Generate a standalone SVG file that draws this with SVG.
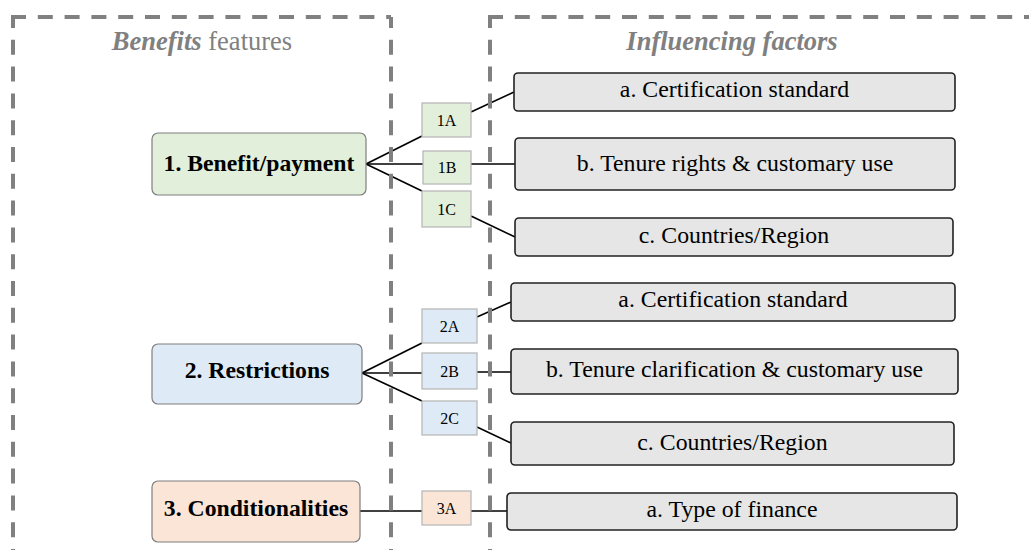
<svg xmlns="http://www.w3.org/2000/svg" width="1029" height="550" viewBox="0 0 1029 550">
<style>
.frame{stroke:#808080;stroke-width:4;fill:none;stroke-dasharray:15 11.8}
.title{font-family:"Liberation Serif",serif;font-size:26.5px;fill:#808080}
.main{font-family:"Liberation Serif",serif;font-size:23.7px;font-weight:bold;fill:#000;text-anchor:middle}
.lab{font-family:"Liberation Serif",serif;font-size:16px;fill:#000;text-anchor:middle}
.fac{font-family:"Liberation Serif",serif;font-size:23.8px;fill:#000;text-anchor:middle}
.nb{stroke:#7f7f7f;stroke-width:1.2}
.lb{stroke:#b4b4b4;stroke-width:1.2}
.fb{fill:#e6e6e6;stroke:#222;stroke-width:1.6}
.g{fill:#e2efda}.b{fill:#deebf7}.o{fill:#fbe5d6}
.con path{stroke:#000;stroke-width:1.6;fill:none}
</style>
<rect width="1029" height="550" fill="#fff"/>
<g id="connectors" class="con">
<path d="M366,164 L422,136"/>
<path d="M366,164 L423,164"/>
<path d="M366,164 L422,191"/>
<path d="M471,112 L514,92"/>
<path d="M471,164 L515,164"/>
<path d="M471,216 L515,237"/>
<path d="M362,373 L422,343"/>
<path d="M362,373 L422,373"/>
<path d="M362,373 L422,401"/>
<path d="M477,317 L511,302"/>
<path d="M477,372 L511,372"/>
<path d="M477,427 L511,443"/>
<path d="M360,511 L422,511"/>
<path d="M471,511 L507,511"/>
</g>
<g id="frames">
<line class="frame" x1="11" y1="17" x2="391" y2="17"/>
<line class="frame" x1="13" y1="17" x2="13" y2="560" stroke-dashoffset="4"/>
<line class="frame" x1="391" y1="17" x2="391" y2="560" stroke-dashoffset="4"/>
<line class="frame" x1="488" y1="17" x2="1040" y2="17"/>
<line class="frame" x1="490" y1="17" x2="490" y2="560" stroke-dashoffset="4"/>
<text class="title" x="202" y="50" text-anchor="middle"><tspan font-weight="bold" font-style="italic">Benefits</tspan> features</text>
<text class="title" x="732" y="50" text-anchor="middle" font-weight="bold" font-style="italic">Influencing factors</text>
</g>
<g id="n1"><rect class="nb g" x="152" y="133" width="214" height="62" rx="6"/><text class="main" x="259" y="171">1. Benefit/payment</text></g>
<g id="n2"><rect class="nb b" x="152" y="344" width="210" height="60" rx="6"/><text class="main" x="257" y="378">2. Restrictions</text></g>
<g id="n3"><rect class="nb o" x="152" y="481" width="208" height="61" rx="6"/><text class="main" x="256" y="516">3. Conditionalities</text></g>
<g id="l1A"><rect class="lb g" x="422" y="103" width="49" height="34"/><text class="lab" x="446.5" y="125.5">1A</text></g>
<g id="l1B"><rect class="lb g" x="423" y="151" width="48" height="33"/><text class="lab" x="447" y="173">1B</text></g>
<g id="l1C"><rect class="lb g" x="422" y="191" width="49" height="36"/><text class="lab" x="446.5" y="214.5">1C</text></g>
<g id="l2A"><rect class="lb b" x="422" y="309" width="55" height="34"/><text class="lab" x="449.5" y="331.5">2A</text></g>
<g id="l2B"><rect class="lb b" x="422" y="353" width="55" height="36"/><text class="lab" x="449.5" y="376.5">2B</text></g>
<g id="l2C"><rect class="lb b" x="422" y="401" width="55" height="34"/><text class="lab" x="449.5" y="423.5">2C</text></g>
<g id="l3A"><rect class="lb o" x="422" y="491" width="49" height="34"/><text class="lab" x="446.5" y="513.5">3A</text></g>
<g id="f1a"><rect class="fb" x="514" y="73" width="441" height="38" rx="4"/><text class="fac" x="734.5" y="97">a. Certification standard</text></g>
<g id="f1b"><rect class="fb" x="515" y="138" width="440" height="52" rx="4"/><text class="fac" x="735" y="171">b. Tenure rights &amp; customary use</text></g>
<g id="f1c"><rect class="fb" x="515" y="218" width="438" height="38" rx="4"/><text class="fac" x="734" y="243">c. Countries/Region</text></g>
<g id="f2a"><rect class="fb" x="511" y="283" width="444" height="38" rx="4"/><text class="fac" x="733" y="307">a. Certification standard</text></g>
<g id="f2b"><rect class="fb" x="511" y="349" width="447" height="45" rx="4"/><text class="fac" x="734.5" y="377">b. Tenure clarification &amp; customary use</text></g>
<g id="f2c"><rect class="fb" x="511" y="422" width="443" height="43" rx="4"/><text class="fac" x="732.5" y="450">c. Countries/Region</text></g>
<g id="f3a"><rect class="fb" x="507" y="493" width="450" height="37" rx="4"/><text class="fac" x="732" y="517">a. Type of finance</text></g>
</svg>
